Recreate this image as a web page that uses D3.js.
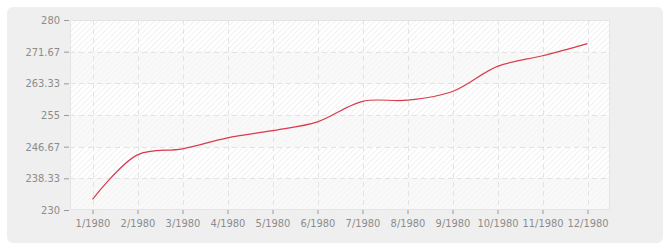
<!DOCTYPE html>
<html>
<head>
<meta charset="utf-8">
<script src="https://cdn.jsdelivr.net/npm/d3@7"></script>
<style>
  html, body { margin: 0; padding: 0; background: #fff; }
  svg { display: block; }
  .tick text { font-family: "DejaVu Sans Condensed", "DejaVu Sans", sans-serif; font-size: 11px; fill: #8c8c8c; }
</style>
</head>
<body>
<svg id="chart"></svg>
<script>
// data
var months = ["1/1980", "2/1980", "3/1980", "4/1980", "5/1980", "6/1980",
              "7/1980", "8/1980", "9/1980", "10/1980", "11/1980", "12/1980"];
var values = [232.8, 244.5, 246.1, 249.0, 250.9, 253.2,
              258.6, 258.9, 261.2, 267.8, 270.6, 273.8];
var yTicks = [230, 238.33, 246.67, 255, 263.33, 271.67, 280];
var yLabels = ["230", "238.33", "246.67", "255", "263.33", "271.67", "280"];

var W = 670, H = 250;
var margin = {top: 20, right: 60, bottom: 40, left: 70},
    width = W - margin.left - margin.right,
    height = H - margin.top - margin.bottom;

var root = d3.select("#chart").attr("width", W).attr("height", H);

// hatch patterns
var defs = root.append("defs");
function hatch(id, bg, stroke) {
  var p = defs.append("pattern")
      .attr("id", id)
      .attr("patternUnits", "userSpaceOnUse")
      .attr("width", 4).attr("height", 4)
      .attr("patternTransform", "rotate(45)");
  p.append("rect").attr("width", 4).attr("height", 4).attr("fill", bg);
  p.append("line").attr("x1", 0).attr("y1", 0).attr("x2", 0).attr("y2", 4)
      .attr("stroke", stroke).attr("stroke-width", 1.4);
}
hatch("hatchA", "#ffffff", "#ebebeb");
hatch("hatchB", "#f9f9f9", "#f3f3f3");

// outer panel
root.append("rect")
    .attr("x", 7).attr("y", 7)
    .attr("width", 656).attr("height", 236)
    .attr("rx", 6)
    .attr("fill", "#efefef");

var svg = root.append("g")
    .attr("transform", "translate(" + margin.left + "," + margin.top + ")");

var x = d3.scalePoint()
    .domain(months)
    .range([0, width])
    .padding(0.5);

var y = d3.scaleLinear()
    .domain([230, 280])
    .range([height, 0]);

// alternating bands
var bands = d3.pairs(yTicks);
svg.selectAll("rect.band")
    .data(bands)
  .enter().append("rect")
    .attr("class", "band")
    .attr("x", 0)
    .attr("width", width)
    .attr("y", function(d) { return y(d[1]); })
    .attr("height", function(d) { return y(d[0]) - y(d[1]); })
    .attr("fill", function(d, i) { return i % 2 == 0 ? "url(#hatchB)" : "url(#hatchA)"; });

// frame
svg.append("rect")
    .attr("x", 0.5).attr("y", 0.5)
    .attr("width", width - 1).attr("height", height - 1)
    .attr("fill", "none")
    .attr("stroke", "#e4e4e4");

// grid
svg.selectAll("line.hgrid")
    .data(yTicks.slice(1, -1))
  .enter().append("line")
    .attr("class", "hgrid")
    .attr("x1", 0).attr("x2", width)
    .attr("y1", function(d) { return Math.round(y(d)) + 0.5; })
    .attr("y2", function(d) { return Math.round(y(d)) + 0.5; })
    .attr("stroke", "#e3e3e3")
    .attr("stroke-dasharray", "5,4");

svg.selectAll("line.vgrid")
    .data(months)
  .enter().append("line")
    .attr("class", "vgrid")
    .attr("x1", function(d) { return Math.round(x(d)) + 0.5; })
    .attr("x2", function(d) { return Math.round(x(d)) + 0.5; })
    .attr("y1", 0).attr("y2", height)
    .attr("stroke", "#e3e3e3")
    .attr("stroke-dasharray", "5,4");

// axes
var yAxis = svg.append("g")
    .attr("transform", "translate(-1,0)")
    .call(d3.axisLeft(y)
      .tickValues(yTicks)
      .tickFormat(function(d, i) { return yLabels[i]; })
      .tickSize(5)
      .tickPadding(4));
yAxis.select(".domain").remove();
yAxis.selectAll(".tick line").attr("stroke", "#999");

var xAxis = svg.append("g")
    .attr("transform", "translate(0," + height + ")")
    .call(d3.axisBottom(x).tickSize(4).tickPadding(5));
xAxis.select(".domain").remove();
xAxis.selectAll(".tick line").attr("stroke", "#999");

// line
svg.append("path")
    .datum(values)
    .attr("fill", "none")
    .attr("stroke", "#d93a4c")
    .attr("stroke-width", 1.2)
    .attr("d", d3.line()
      .curve(d3.curveCatmullRom.alpha(0.5))
      .x(function(d, i) { return x(months[i]); })
      .y(function(d) { return y(d); }));
</script>
</body>
</html>
